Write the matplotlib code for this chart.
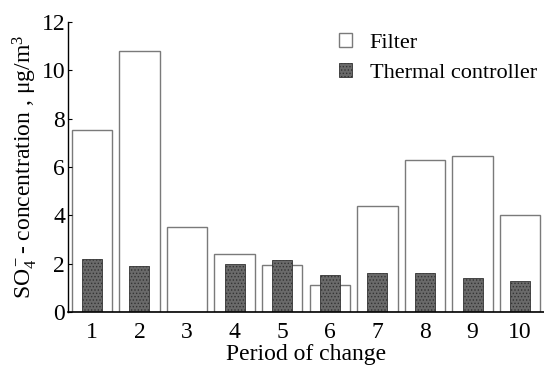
import numpy as np
import matplotlib.pyplot as plt

plt.rcParams['font.family'] = ['Liberation Serif', 'DejaVu Serif']
plt.rcParams['mathtext.fontset'] = 'custom'
plt.rcParams['mathtext.rm'] = 'Liberation Serif'
plt.rcParams['mathtext.it'] = 'Liberation Serif:italic'
plt.rcParams['hatch.color'] = '#2a2a2a'
plt.rcParams['hatch.linewidth'] = 0.6

periods = [1, 2, 3, 4, 5, 6, 7, 8, 9, 10]
filter_vals = [7.55, 10.8, 3.5, 2.4, 1.95, 1.1, 4.4, 6.3, 6.45, 4.0]
thermal_vals = [2.2, 1.9, 0, 2.0, 2.15, 1.55, 1.6, 1.6, 1.4, 1.3]

fig = plt.figure(figsize=(5.44, 3.72), dpi=100)
ax = fig.add_axes([68 / 544, 60 / 372, 476 / 544, 290 / 372])

x = np.array(periods)
ax.bar(x, filter_vals, width=0.85, facecolor='white', edgecolor='#7a7a7a',
       linewidth=1.0, label='Filter')
ax.bar(x, thermal_vals, width=0.42, facecolor='#6a6a6a', edgecolor='#333333',
       linewidth=0.6, hatch='.....', label='Thermal controller')

ax.set_xlim(0.5, 10.5)
ax.set_ylim(0, 12)
ax.set_xticks(periods)
ax.set_yticks([0, 2, 4, 6, 8, 10, 12])
ax.tick_params(axis='x', length=0, labelsize=17, pad=7)
ax.tick_params(axis='y', direction='in', length=3, labelsize=17, pad=2)
for s in ['top', 'right']:
    ax.spines[s].set_visible(False)
ax.spines['left'].set_linewidth(1.0)
ax.spines['bottom'].set_linewidth(1.2)

ax.set_xlabel('Period of change', fontsize=17, labelpad=1)
ax.set_ylabel(r'SO$_4^-$- concentration , μg/m$^3$', fontsize=17, labelpad=2)

ax.legend(loc='upper left', bbox_to_anchor=(0.536, 1.016), frameon=False,
          fontsize=16, handlelength=0.6, handleheight=0.6, handletextpad=0.8,
          labelspacing=0.45, borderaxespad=0.3)

fig.savefig('out.png', dpi=100)
